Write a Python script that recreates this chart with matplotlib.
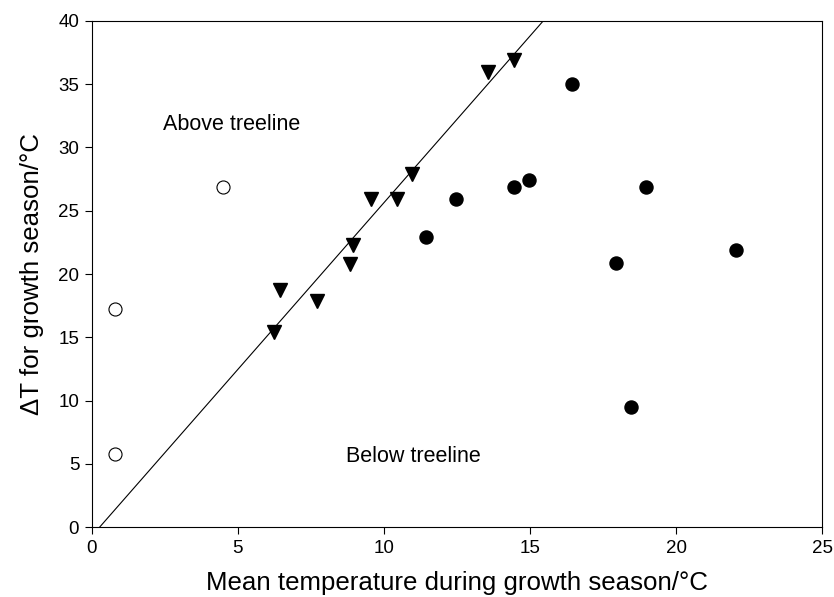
import matplotlib
matplotlib.use("Agg")
import matplotlib.pyplot as plt

plt.rcParams['font.family'] = ['Liberation Sans', 'DejaVu Sans']

# open circles (above treeline)
above_x = [0.8, 0.8, 4.5]
above_y = [17.2, 5.8, 26.9]

# triangles (at treeline)
tree_x = [6.25, 6.45, 7.7, 8.85, 8.95, 9.55, 10.45, 10.95, 13.55, 14.45]
tree_y = [15.4, 18.7, 17.9, 20.8, 22.3, 25.9, 25.9, 27.9, 36.0, 36.9]

# filled circles (below treeline)
below_x = [11.45, 12.45, 14.45, 14.95, 16.45, 17.95, 18.45, 18.95, 22.05]
below_y = [22.9, 25.9, 26.9, 27.4, 35.0, 20.9, 9.5, 26.9, 21.9]

# treeline boundary line
line_x = [0.27, 15.45]
line_y = [0, 40]

fig = plt.figure(figsize=(8.34, 5.97), dpi=100)
ax = fig.add_axes([0.110, 0.117, 0.876, 0.848])

ax.plot(line_x, line_y, color='black', lw=0.8)
ax.plot(above_x, above_y, 'o', mfc='white', mec='black', ms=9.4, mew=0.8)
ax.plot(tree_x, tree_y, 'v', color='black', ms=9.5)
ax.plot(below_x, below_y, 'o', color='black', ms=9.4)

ax.text(2.45, 31.8, 'Above treeline', fontsize=15.5, va='center')
ax.text(8.7, 5.55, 'Below treeline', fontsize=15.5, va='center')

ax.set_xlim(0, 25)
ax.set_ylim(0, 40)
ax.set_xticks([0, 5, 10, 15, 20, 25])
ax.set_yticks(range(0, 41, 5))
ax.tick_params(labelsize=13.5, length=5, width=0.8, pad=4)
ax.set_xlabel('Mean temperature during growth season/\u00b0C', fontsize=18.6, labelpad=10)
ax.set_ylabel('\u0394T for growth season/\u00b0C', fontsize=18.6, labelpad=10)
for s in ax.spines.values():
    s.set_linewidth(0.8)

fig.savefig('out.png', dpi=100)
